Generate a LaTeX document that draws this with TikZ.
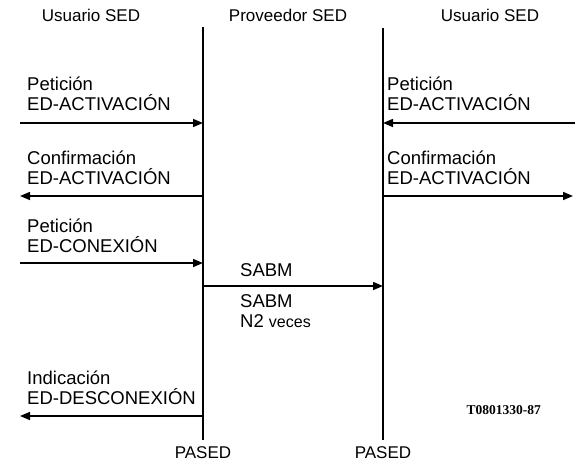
\documentclass[tikz,border=0pt]{standalone}
\usepackage{fontspec}
\setmainfont{Liberation Sans}
\newfontfamily\refnofont{Liberation Serif}
\usetikzlibrary{arrows.meta}
\tikzstyle{head}  = [font=\fontsize{17}{20}\selectfont, inner sep=0pt, anchor=base]
\tikzstyle{lbl}   = [font=\fontsize{18.5}{20.5}\selectfont, inner sep=0pt, align=left, anchor=south west]
\tikzstyle{life}  = [line width=1.5pt]
\tikzstyle{msg}   = [line width=1.5pt, -{Stealth[length=10pt,width=8pt,inset=0pt]}]

\begin{document}
\begin{tikzpicture}[x=1pt,y=-1pt]
        \useasboundingbox (0,0) rectangle (575,464);

        % headers
        \node[head] (usr1) at (91,21)  {Usuario SED};
        \node[head] (prov) at (288,21) {Proveedor SED};
        \node[head] (usr2) at (490,21) {Usuario SED};

        % lifelines
        \coordinate (ltop) at (203,27);
        \coordinate (lbot) at (203,440);
        \coordinate (rtop) at (383,28);
        \coordinate (rbot) at (383,440);
        \draw[life] (ltop) -- (lbot);
        \draw[life] (rtop) -- (rbot);
        \node[head] (pased1) at (203,458) {PASED};
        \node[head] (pased2) at (383,458) {PASED};

        % ends of the messages
        \coordinate (p1) at (20,123);  \coordinate (q1) at (203,123);
        \coordinate (p2) at (20,196);  \coordinate (q2) at (203,196);
        \coordinate (p3) at (20,263);  \coordinate (q3) at (203,263);
        \coordinate (p4) at (20,416);  \coordinate (q4) at (203,416);
        \coordinate (s1) at (203,286); \coordinate (s2) at (383,286);
        \coordinate (r1) at (575,123); \coordinate (t1) at (383,123);
        \coordinate (r2) at (573,196); \coordinate (t2) at (383,196);

        % left user
        \draw[msg] (p1) -- (q1);
        \node[lbl] (pet1) at (27,111) {Petición\\ED-ACTIVACIÓN};
        \draw[msg] (q2) -- (p2);
        \node[lbl] (conf1) at (27,185) {Confirmación\\ED-ACTIVACIÓN};
        \draw[msg] (p3) -- (q3);
        \node[lbl] (pet2) at (27,253) {Petición\\ED-CONEXIÓN};
        \draw[msg] (q4) -- (p4);
        \node[lbl] (ind) at (27,405) {Indicación\\ED-DESCONEXIÓN};

        % provider
        \draw[msg] (s1) -- (s2);
        \node[lbl] (sabm1) at (240,277) {SABM};
        \node[lbl, anchor=north west] (sabm2) at (240,294) {SABM\\N2 {\fontsize{16}{20}\selectfont veces}};

        % right user
        \draw[msg] (r1) -- (t1);
        \node[lbl] (pet3) at (387,111) {Petición\\ED-ACTIVACIÓN};
        \draw[msg] (t2) -- (r2);
        \node[lbl] (conf2) at (387,185) {Confirmación\\ED-ACTIVACIÓN};

        \node[inner sep=0pt, anchor=base east, font=\refnofont\bfseries\fontsize{13.5}{15}\selectfont] (ref) at (541,414) {T0801330-87};
\end{tikzpicture}
\end{document}
